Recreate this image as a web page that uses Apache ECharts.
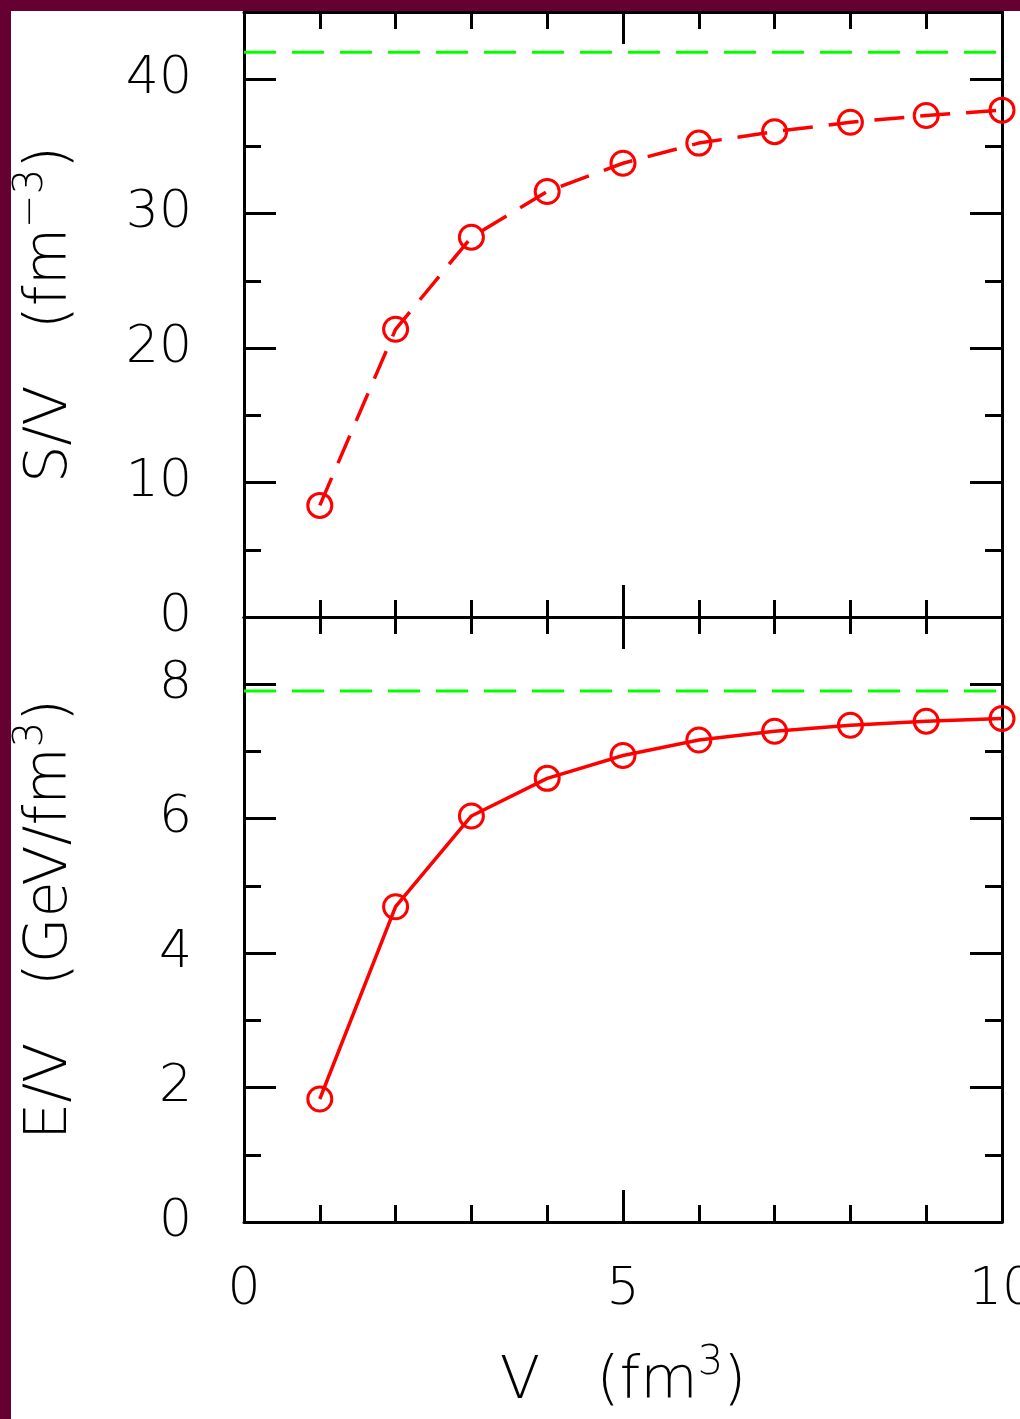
<!DOCTYPE html>
<html>
<head>
<meta charset="utf-8">
<script src="https://cdn.jsdelivr.net/npm/echarts@6.0.0/dist/echarts.min.js"></script>
<style>
  html, body { margin: 0; padding: 0; background: #660033; }
  #chart { position: absolute; left: 11px; top: 11px; width: 1009px; height: 1408px; background: #ffffff; }
</style>
</head>
<body>
<div id="chart"></div>
<script>
// volumes (fm^3)
const volumes = [1, 2, 3, 4, 5, 6, 7, 8, 9, 10]
// entropy density S/V (fm^-3)
const entropyDensity = [8.3, 21.4, 28.25, 31.65, 33.75, 35.25, 36.1, 36.8, 37.3, 37.7]
// energy density E/V (GeV/fm^3)
const energyDensity = [1.83, 4.69, 6.04, 6.6, 6.94, 7.17, 7.3, 7.39, 7.45, 7.49]
// limits (green dashed lines)
const entropyLimit = 42.0
const energyLimit = 7.9
const xRange = [0, 10]

const FONT = "'DejaVu Sans', sans-serif"
const WEIGHT = 200
const BLACK = '#000000'
const RED = '#ff0000'
const GREEN = '#00ff00'

const chart = echarts.init(document.getElementById('chart'))

const gridLeft = 233
const gridWidth = 758
const panelH = 605

const nameRich = {
  a: { fontSize: 59, lineHeight: 68, verticalAlign: 'bottom', fontFamily: FONT, fontWeight: WEIGHT, color: BLACK },
  sup: { fontSize: 40, lineHeight: 40, verticalAlign: 'top', fontFamily: FONT, fontWeight: WEIGHT, color: BLACK }
}

// x axis helper
const makeX = (gridIndex, position, showLabel, name) => ({
  type: 'value',
  gridIndex,
  position,
  min: xRange[0],
  max: xRange[1],
  interval: 5,
  axisLine: { show: true, onZero: false, lineStyle: { color: BLACK, width: 3 } },
  axisTick: { show: true, inside: true, length: 32, lineStyle: { color: BLACK, width: 3 } },
  minorTick: { show: true, splitNumber: 5, length: 17, lineStyle: { color: BLACK, width: 3 } },
  splitLine: { show: false },
  axisLabel: {
    show: showLabel, margin: 42, fontSize: 52, color: BLACK, fontFamily: FONT, fontWeight: WEIGHT
  },
  name: name || '',
  nameLocation: 'middle',
  nameGap: 122,
  nameTextStyle: { rich: nameRich }
})

// y axis helper (major or minor ticks)
const makeY = (gridIndex, position, max, interval, major, showLabel, name) => ({
  type: 'value',
  gridIndex,
  position,
  min: 0,
  max,
  interval,
  axisLine: { show: major, onZero: false, lineStyle: { color: BLACK, width: 3 } },
  axisTick: { show: true, inside: true, length: major ? 32 : 17, lineStyle: { color: BLACK, width: 3 } },
  splitLine: { show: false },
  axisLabel: {
    show: showLabel, showMaxLabel: false, margin: 52, fontSize: 52, color: BLACK, fontFamily: FONT, fontWeight: WEIGHT
  },
  name: name || '',
  nameLocation: 'middle',
  nameGap: 164,
  nameTextStyle: { rich: nameRich }
})

const pairs = (ys) => volumes.map((v, i) => [v, ys[i]])

const option = {
  animation: false,
  grid: [
    { left: gridLeft, top: 1, width: gridWidth, height: panelH, outerBoundsMode: 'none', containLabel: false },
    { left: gridLeft, top: 1 + panelH, width: gridWidth, height: panelH, outerBoundsMode: 'none', containLabel: false }
  ],
  xAxis: [
    makeX(0, 'bottom', false),
    makeX(0, 'top', false),
    makeX(1, 'top', false),
    makeX(1, 'bottom', true, '{a|V   (fm}{sup|3}{a|)}')
  ],
  yAxis: [
    makeY(0, 'left', 45, 10, true, true, '{a|S/V   (fm}{sup|−3}{a|)}'),
    makeY(0, 'left', 45, 5, false, false),
    makeY(0, 'right', 45, 10, true, false),
    makeY(0, 'right', 45, 5, false, false),
    makeY(1, 'left', 9, 2, true, true, '{a|E/V   (GeV/fm}{sup|3}{a|)}'),
    makeY(1, 'left', 9, 1, false, false),
    makeY(1, 'right', 9, 2, true, false),
    makeY(1, 'right', 9, 1, false, false)
  ],
  series: [
    {
      type: 'line',
      xAxisIndex: 0,
      yAxisIndex: 0,
      data: xRange.map(x => [x, entropyLimit]),
      symbol: 'none',
      lineStyle: { color: GREEN, width: 3, type: [32, 16] },
      z: 1
    },
    {
      type: 'line',
      xAxisIndex: 0,
      yAxisIndex: 0,
      data: pairs(entropyDensity),
      clip: false,
      symbol: 'circle',
      symbolSize: 24,
      itemStyle: { color: 'transparent', borderColor: RED, borderWidth: 3 },
      lineStyle: { color: RED, width: 3.5, type: [30, 16] },
      z: 3
    },
    {
      type: 'line',
      xAxisIndex: 2,
      yAxisIndex: 4,
      data: xRange.map(x => [x, energyLimit]),
      symbol: 'none',
      lineStyle: { color: GREEN, width: 3, type: [32, 16] },
      z: 1
    },
    {
      type: 'line',
      xAxisIndex: 2,
      yAxisIndex: 4,
      data: pairs(energyDensity),
      clip: false,
      symbol: 'circle',
      symbolSize: 24,
      itemStyle: { color: 'transparent', borderColor: RED, borderWidth: 3 },
      lineStyle: { color: RED, width: 3.5 },
      z: 3
    }
  ]
}

chart.setOption(option)
</script>
</body>
</html>
